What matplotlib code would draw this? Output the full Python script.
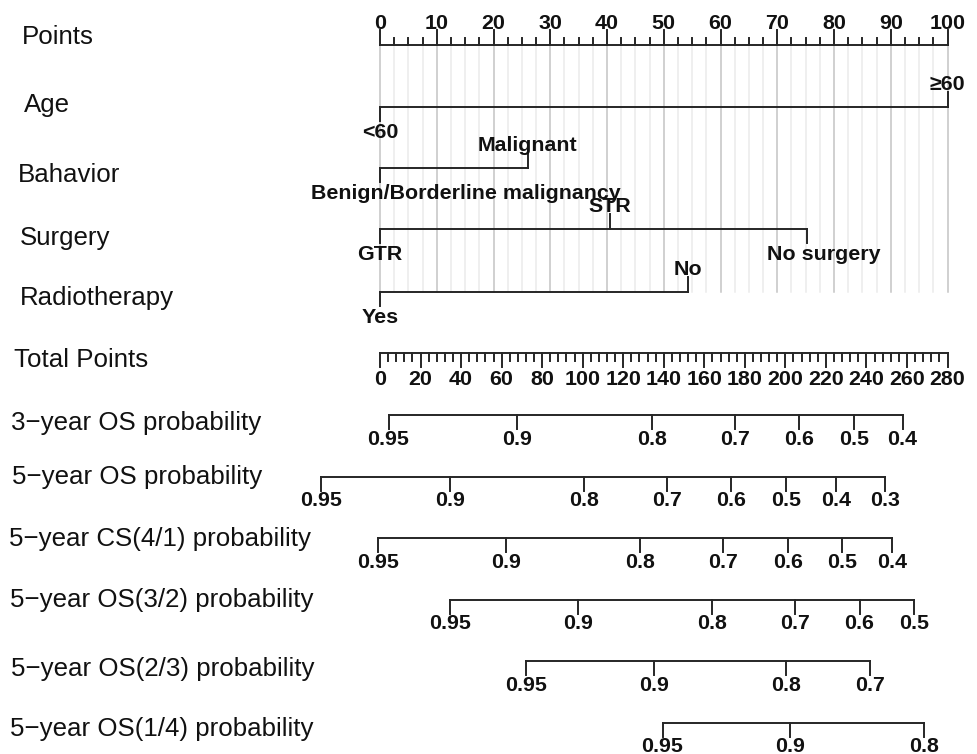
import numpy as np
import matplotlib.pyplot as plt

plt.rcParams['font.family'] = ['Liberation Sans', 'DejaVu Sans']

# predictor levels and the points they carry
age_levels = ['<60', '≥60']
age_points = [0, 100]
behavior_levels = ['Benign/Borderline malignancy', 'Malignant']
behavior_points = [0, 26]
surgery_levels = ['GTR', 'STR', 'No surgery']
surgery_points = [0, 40.5, 75.2]
radio_levels = ['Yes', 'No']
radio_points = [0, 54.3]

points_ticks = np.arange(0, 101, 10)
total_ticks = np.arange(0, 281, 20)

# probability scales: labels and the total points where they sit
os3_probs = ['0.95', '0.9', '0.8', '0.7', '0.6', '0.5', '0.4']
os3_total = [4.2, 67.6, 134.0, 175.3, 206.7, 233.8, 257.8]
os5_probs = ['0.95', '0.9', '0.8', '0.7', '0.6', '0.5', '0.4', '0.3']
os5_total = [-28.9, 34.4, 100.5, 141.8, 173.3, 200.3, 224.9, 249.0]
cs41_probs = ['0.95', '0.9', '0.8', '0.7', '0.6', '0.5', '0.4']
cs41_total = [-0.9, 62.2, 128.4, 169.2, 201.2, 227.9, 252.5]
os32_probs = ['0.95', '0.9', '0.8', '0.7', '0.6', '0.5']
os32_total = [34.5, 97.8, 163.8, 205.0, 236.6, 263.7]
os23_probs = ['0.95', '0.9', '0.8', '0.7']
os23_total = [71.9, 135.0, 200.5, 241.6]
os14_probs = ['0.95', '0.9', '0.8']
os14_total = [139.4, 202.5, 268.2]

W, H = 978, 754
X0, PX = 380, 5.675          # pixel of 0 points, pixels per point

fig = plt.figure(figsize=(W / 100, H / 100), dpi=100)
ax = fig.add_axes([0, 0, 1, 1])
ax.set_xlim(-X0 / PX, (W - X0) / PX)
ax.set_ylim(H, 0)
ax.axis('off')

LC = '#262626'
LW = 1.4
tick_font = dict(fontsize=15.4, fontweight='bold', color='#111111')
name_font = dict(fontsize=18.6, color='#111111')

def tp(v):
    return np.asarray(v) * 100 / 280

# vertical guide lines behind the predictor rows
for g in np.arange(0, 100.01, 2.5):
    major = abs(g % 10) < 1e-9
    ax.plot([g, g], [44.5, 292], color='#c4c4c4' if major else '#ebebeb',
            lw=1.1, zorder=0)

# Points scale
y = 44.5
ax.plot([0, 100], [y, y], color=LC, lw=LW)
for t in np.arange(0, 100.01, 2.5):
    top = y - 14.5 if abs(t % 10) < 1e-9 else y - 7
    ax.plot([t, t], [y, top], color=LC, lw=LW)
for t in points_ticks:
    ax.text(t, 29, str(t), ha='center', va='baseline', **tick_font)

# categorical predictor rows: (y, points, levels, sides, label shifts)
rows = [
    (106.7, age_points, age_levels, ['below', 'above'], [0, 0]),
    (168.3, behavior_points, behavior_levels, ['below', 'above'], [15.2, 0]),
    (229.0, surgery_points, surgery_levels, ['below', 'above', 'below'], [0, 0, 3.0]),
    (291.7, radio_points, radio_levels, ['below', 'above'], [0, 0]),
]
for y, pts, levels, sides, shifts in rows:
    ax.plot([min(pts), max(pts)], [y, y], color=LC, lw=LW)
    for p, lab, side, sh in zip(pts, levels, sides, shifts):
        if side == 'above':
            ax.plot([p, p], [y, y - 15], color=LC, lw=LW)
            ax.text(p + sh, y - 17, lab, ha='center', va='baseline', **tick_font)
        else:
            ax.plot([p, p], [y, y + 14], color=LC, lw=LW)
            ax.text(p + sh, y + 31, lab, ha='center', va='baseline', **tick_font)

# Total Points scale
y = 352.7
ax.plot([0, tp(280)], [y, y], color=LC, lw=LW)
for t in np.arange(0, 281, 4):
    bot = y + 14.5 if t % 20 == 0 else y + 8
    ax.plot([tp(t), tp(t)], [y, bot], color=LC, lw=LW)
for t in total_ticks:
    ax.text(tp(t), 385, str(t), ha='center', va='baseline', **tick_font)

# probability scales
prob_rows = [
    (415.2, os3_probs, os3_total),
    (476.7, os5_probs, os5_total),
    (538.2, cs41_probs, cs41_total),
    (599.7, os32_probs, os32_total),
    (661.2, os23_probs, os23_total),
    (722.7, os14_probs, os14_total),
]
for y, labs, pos in prob_rows:
    xs = tp(pos)
    ax.plot([xs.min(), xs.max()], [y, y], color=LC, lw=LW)
    for x, lab in zip(xs, labs):
        ax.plot([x, x], [y, y + 14], color=LC, lw=LW)
        ax.text(x, y + 29.5, lab, ha='center', va='baseline', **tick_font)

# row names on the left
names = [
    ('Points', 22, 37),
    ('Age', 24, 105),
    ('Bahavior', 18, 175),
    ('Surgery', 20, 238),
    ('Radiotherapy', 20, 298),
    ('Total Points', 14, 360),
    ('3\u2212year OS probability', 11, 423),
    ('5\u2212year OS probability', 12, 477),
    ('5\u2212year CS(4/1) probability', 9, 539),
    ('5\u2212year OS(3/2) probability', 10, 600),
    ('5\u2212year OS(2/3) probability', 11, 669),
    ('5\u2212year OS(1/4) probability', 10, 729),
]
for txt, x, y in names:
    fig.text(x / W, 1 - y / H, txt, ha='left', va='center', **name_font)

fig.savefig('out.png', dpi=100, facecolor='white')
